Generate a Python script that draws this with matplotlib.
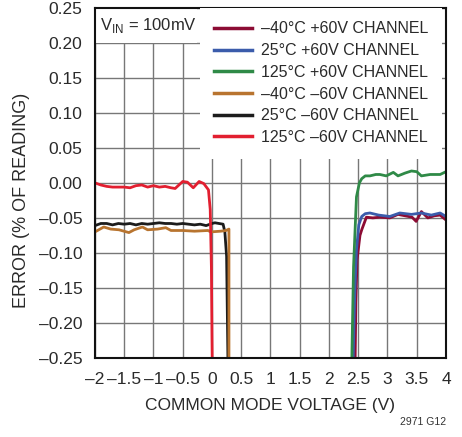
import numpy as np
import matplotlib
matplotlib.use('Agg')
from matplotlib import pyplot as plt
from matplotlib.patches import Rectangle

plt.rcParams['font.family'] = ['Liberation Sans Narrow', 'Liberation Sans', 'DejaVu Sans']

# -60V channels (left side)
x_red = [-2.0, -1.9, -1.8, -1.7, -1.6, -1.5, -1.4, -1.3, -1.2, -1.1, -1.0, -0.9, -0.8,
         -0.7, -0.63, -0.5, -0.42, -0.32, -0.22, -0.14, -0.06, -0.03, -0.01, 0.0, 0.01]
y_red = [0.000, -0.003, -0.005, -0.006, -0.006, -0.006, -0.007, -0.004, -0.003, -0.006,
         -0.004, -0.006, -0.005, -0.007, -0.008, 0.002, 0.001, -0.007, 0.002, -0.001,
         -0.010, -0.038, -0.120, -0.220, -0.300]

x_blk = [-2.0, -1.9, -1.8, -1.7, -1.6, -1.5, -1.4, -1.3, -1.2, -1.1, -1.0, -0.9, -0.8,
         -0.7, -0.6, -0.5, -0.4, -0.3, -0.2, -0.1, 0.0, 0.05, 0.12, 0.19, 0.22, 0.25, 0.28]
y_blk = [-0.061, -0.058, -0.058, -0.060, -0.058, -0.059, -0.058, -0.060, -0.058, -0.059,
         -0.058, -0.057, -0.058, -0.058, -0.059, -0.058, -0.059, -0.060, -0.059, -0.061,
         -0.058, -0.057, -0.058, -0.059, -0.070, -0.105, -0.300]

x_brn = [-2.0, -1.85, -1.73, -1.59, -1.42, -1.33, -1.19, -1.1, -0.93, -0.79, -0.7, -0.5,
         -0.3, -0.07, -0.02, 0.15, 0.24, 0.29, 0.29]
y_brn = [-0.070, -0.063, -0.066, -0.067, -0.071, -0.067, -0.063, -0.067, -0.066, -0.064,
         -0.068, -0.068, -0.069, -0.068, -0.070, -0.069, -0.068, -0.066, -0.300]

# +60V channels (right side)
x_grn = [2.38, 2.42, 2.47, 2.52, 2.56, 2.62, 2.7, 2.8, 2.87, 2.98, 3.1, 3.18, 3.3, 3.41,
         3.5, 3.58, 3.73, 3.9, 4.0]
y_grn = [-0.300, -0.120, -0.020, 0.000, 0.006, 0.010, 0.010, 0.012, 0.012, 0.010, 0.015,
         0.010, 0.014, 0.017, 0.016, 0.010, 0.012, 0.012, 0.016]

x_blu = [2.40, 2.44, 2.47, 2.51, 2.56, 2.62, 2.7, 2.85, 3.04, 3.21, 3.41, 3.58, 3.75, 3.9, 4.0]
y_blu = [-0.300, -0.160, -0.096, -0.060, -0.048, -0.044, -0.043, -0.046, -0.048, -0.043,
         -0.045, -0.043, -0.046, -0.043, -0.048]

x_drd = [2.44, 2.46, 2.48, 2.53, 2.56, 2.64, 2.75, 2.87, 3.04, 3.18, 3.3, 3.42, 3.49, 3.58,
         3.69, 3.8, 3.9, 4.0]
y_drd = [-0.300, -0.170, -0.110, -0.075, -0.067, -0.049, -0.050, -0.049, -0.050, -0.045,
         -0.047, -0.049, -0.055, -0.041, -0.050, -0.047, -0.046, -0.053]

labels = ['\u201340\u00b0C +60V CHANNEL', '25\u00b0C +60V CHANNEL', '125\u00b0C +60V CHANNEL',
          '\u201340\u00b0C \u201360V CHANNEL', '25\u00b0C \u201360V CHANNEL',
          '125\u00b0C \u201360V CHANNEL']
colors = ['#8c0c34', '#3b5cab', '#2f8a47', '#b8742f', '#1c1c1c', '#e21f30']

xticks = [-2, -1.5, -1, -0.5, 0, 0.5, 1, 1.5, 2, 2.5, 3, 3.5, 4]
xticklabels = ['\u20132', '\u20131.5', '\u20131', '\u20130.5', '0', '0.5', '1', '1.5', '2',
               '2.5', '3', '3.5', '4']
yticks = [0.25, 0.20, 0.15, 0.10, 0.05, 0.0, -0.05, -0.10, -0.15, -0.20, -0.25]
yticklabels = ['0.25', '0.20', '0.15', '0.10', '0.05', '0.00', '\u20130.05', '\u20130.10',
               '\u20130.15', '\u20130.20', '\u20130.25']

txt = '#2a2a2a'

fig = plt.figure(figsize=(4.62, 4.37), dpi=100)
ax = fig.add_axes([0.2056, 0.181, 0.7597, 0.801])

series = [(x_drd, y_drd), (x_blu, y_blu), (x_grn, y_grn),
          (x_brn, y_brn), (x_blk, y_blk), (x_red, y_red)]
zs = [2, 2, 2, 2.2, 2.1, 2.3]
for (xs, ys), c, lab, z in zip(series, colors, labels, zs):
    ax.plot(xs, ys, color=c, lw=2.0, label=lab, zorder=z, solid_joinstyle='round')

ax.set_xlim(-2, 4)
ax.set_ylim(-0.25, 0.25)
ax.set_xticks(xticks)
ax.set_xticklabels(xticklabels)
ax.set_yticks(yticks)
ax.set_yticklabels(yticklabels)
ax.tick_params(length=0, labelsize=12.5, colors=txt)
ax.tick_params(axis='y', pad=9)
ax.tick_params(axis='x', pad=10)
ax.set_axisbelow(True)
ax.grid(True, color='#777777', lw=1.0)
for s in ax.spines.values():
    s.set_linewidth(1.5)
    s.set_color('#111111')

# white box behind the V_IN note
ax.add_patch(Rectangle((0, 0.9), 0.29, 0.1, transform=ax.transAxes,
                       facecolor='white', edgecolor='none', zorder=1))
ax.text(0.015, 0.949, r'V$_{\mathregular{IN}}$ = 100mV', transform=ax.transAxes,
        fontsize=12, va='center', ha='left', color=txt, zorder=3)

leg = ax.legend(loc='upper left', bbox_to_anchor=(0.299, 1.0), borderaxespad=0,
                fontsize=11.5, handlelength=2.4, handletextpad=0.6, labelspacing=0.42,
                borderpad=0.85, fancybox=False, framealpha=1, edgecolor='none',
                facecolor='white')
for t in leg.get_texts():
    t.set_color(txt)
for h in leg.get_lines():
    h.set_linewidth(2.5)

ax.set_xlabel('COMMON MODE VOLTAGE (V)', fontsize=12.5, color=txt, labelpad=8)
ax.set_ylabel('ERROR (% OF READING)', fontsize=13, color=txt)
ax.yaxis.set_label_coords(-0.185, 0.451)

fig.text(0.965, 0.022, '2971 G12', fontsize=7.5, ha='right', va='bottom', color='#333333')

fig.savefig('out.png', dpi=100)
